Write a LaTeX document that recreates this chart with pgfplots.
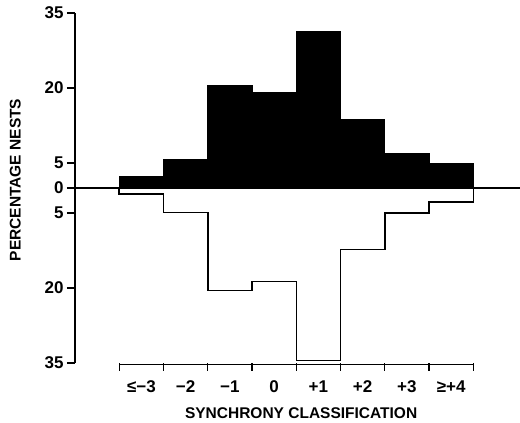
\documentclass[border=0pt]{standalone}
\usepackage{fontspec}
\setmainfont{Liberation Sans}
\usepackage{pgfplots}
\pgfplotsset{compat=1.18}

\begin{document}
\begin{tikzpicture}
\useasboundingbox (-75pt,-60pt) rectangle (445pt,363pt);
\begin{axis}[
    at={(0pt,0pt)}, anchor=south west,
    x=44.25pt, y=5pt,
    xmin=-0.5, xmax=9.56,
    ymin=-35, ymax=35,
    clip=false,
    axis x line*=bottom, axis y line*=left,
    x axis line style={draw=none},
    y axis line style={line width=1.5pt},
    tick align=outside,
    major tick length=8pt,
    xtick={0.5,1.5,...,8.5},
    xticklabels={,,,,,,,,},
    x tick style={line width=1.2pt, black},
    extra x ticks={1,2,...,8},
    extra x tick labels={≤−3,−2,−1,0,+1,+2,+3,≥+4},
    extra x tick style={tick style={draw=none}},
    ytick={-35,-20,-5,0,5,20,35},
    yticklabels={35,20,5,0,5,20,35},
    y tick style={line width=1.2pt, black},
    tick label style={font=\fontsize{17}{17}\selectfont\bfseries},
    xticklabel style={yshift=-6pt},
    xlabel={SYNCHRONY CLASSIFICATION},
    ylabel={PERCENTAGE NESTS},
    label style={font=\fontsize{15.5}{16}\selectfont\bfseries},
    x label style={at={(axis description cs:0.508,-0.143)}, anchor=center},
    y label style={at={(axis description cs:-0.134,0.523)}, anchor=center},
]
% upper histogram (filled)
\addplot[const plot, fill=black, draw=black, line width=1pt] coordinates {
    (0.5,0) (0.5,2.3) (1.5,5.6) (2.5,20.4) (3.5,19.0) (4.5,31.2)
    (5.5,13.6) (6.5,6.8) (7.5,4.8) (8.5,0)
} -- cycle;
% lower histogram (outline)
\addplot[const plot, draw=black, line width=1.5pt] coordinates {
    (0.5,0) (0.5,-1.2) (1.5,-4.9) (2.5,-20.5) (3.5,-18.7) (4.5,-34.5)
    (5.5,-12.3) (6.5,-5.0) (7.5,-2.8) (8.5,0)
};
% zero line
\addplot[black, line width=1.5pt] coordinates {(-0.5,0) (9.56,0)};
% bottom axis line
\addplot[black, line width=1.5pt] coordinates {(0.5,-35.3) (8.5,-35.3)};
\end{axis}
\end{tikzpicture}
\end{document}
